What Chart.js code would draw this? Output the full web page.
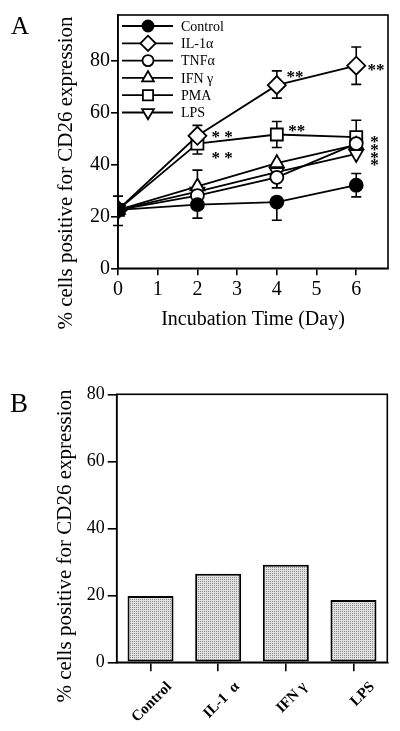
<!DOCTYPE html>
<html>
<head>
<meta charset="utf-8">
<script src="https://cdn.jsdelivr.net/npm/chart.js@4.4.0/dist/chart.umd.min.js"></script>
<style>
    html, body { margin: 0; padding: 0; background: #fff; }
    #wrapA { position: absolute; left: 0; top: 0; width: 400px; height: 355px; }
    #wrapB { position: absolute; left: 0; top: 355px; width: 400px; height: 376px; }
</style>
</head>
<body>
<div id="wrapA"><canvas id="chartA"></canvas></div>
<div id="wrapB"><canvas id="chartB"></canvas></div>
<script>
const SERIF = "'Liberation Serif', 'Times New Roman', serif";

// ---- Panel A: CD26 expression over incubation time ----
const days = [0, 2, 4, 6];
const dayTicks = [0, 1, 2, 3, 4, 5, 6];
const yTicksA = [0, 20, 40, 60, 80];

const controlVals = [22.5, 24.5, 25.5, 32];
const il1aVals    = [22.5, 51, 70.5, 78];
const tnfaVals    = [22.5, 28, 35, 48];
const ifngVals    = [22.5, 31.5, 40.5, 47.5];
const pmaVals     = [22.5, 48, 51.5, 50.5];
const lpsVals     = [22.5, 29.5, 37, 44];

// error bar lengths (up / down), 0 = not visible
const controlErrUp = [0, 0, 0, 4.5];
const controlErrDn = [6, 5.2, 7, 4.5];
const il1aErrUp    = [5.3, 4, 5.5, 7.2];
const il1aErrDn    = [0, 0, 5, 7.2];
const tnfaErrUp    = [0, 0, 0, 0];
const tnfaErrDn    = [0, 0, 4, 0];
const ifngErrUp    = [0, 6.3, 0, 0];
const ifngErrDn    = [0, 0, 0, 0];
const pmaErrUp     = [0, 0, 5, 6.5];
const pmaErrDn     = [0, 4, 5, 0];
const lpsErrUp     = [0, 0, 0, 0];
const lpsErrDn     = [0, 0, 6, 0];

// significance marks
const starMarks = [
    { x: 4.46, y: 75.5, text: '**' },
    { x: 6.5, y: 78.2, text: '**' },
    { x: 2.62, y: 52.4, text: '* *' },
    { x: 2.62, y: 44.3, text: '* *' },
    { x: 4.5, y: 54.7, text: '**' },
    { x: 6.46, y: 50.5, text: '*' },
    { x: 6.46, y: 47.3, text: '*' },
    { x: 6.46, y: 44.3, text: '*' },
    { x: 6.46, y: 41.5, text: '*' }
];

// ---- Panel B: bar chart ----
const barLabels = ['Control', 'IL-1  α', 'IFN γ', 'LPS'];
const barValues = [19.8, 26.4, 29.1, 18.6];
const yTicksB = [0, 20, 40, 60, 80];

function pts(vals) {
    return days.map((d, i) => ({ x: d, y: vals[i] }));
}

function series(label, vals, up, dn, style, radius, filled, rotation) {
    return {
        label: label,
        data: pts(vals),
        errUp: up,
        errDn: dn,
        borderColor: '#000',
        borderWidth: 1.8,
        backgroundColor: filled ? '#000' : '#fff',
        pointStyle: style,
        pointRadius: radius,
        pointRotation: rotation || 0,
        pointBorderWidth: 1.8,
        pointBorderColor: '#000',
        pointBackgroundColor: filled ? '#000' : '#fff',
        tension: 0,
        fill: false
    };
}

// frame around the plot area
const framePlugin = {
    id: 'frame',
    afterDraw(chart) {
        const a = chart.chartArea;
        const ctx = chart.ctx;
        ctx.save();
        ctx.strokeStyle = '#000';
        ctx.lineWidth = 1.6;
        ctx.strokeRect(a.left, a.top, a.right - a.left, a.bottom - a.top);
        ctx.restore();
    }
};

// error bars with T caps
const errorBarPlugin = {
    id: 'errorBars',
    beforeDatasetsDraw(chart) {
        const ctx = chart.ctx;
        const xs = chart.scales.x, ys = chart.scales.y;
        ctx.save();
        ctx.strokeStyle = '#000';
        ctx.lineWidth = 1.6;
        chart.data.datasets.forEach(ds => {
            ds.data.forEach((p, i) => {
                const px = xs.getPixelForValue(p.x);
                [[ds.errUp[i], 1], [ds.errDn[i], -1]].forEach(([e, dir]) => {
                    if (!e) return;
                    const y0 = ys.getPixelForValue(p.y);
                    const y1 = ys.getPixelForValue(p.y + dir * e);
                    ctx.beginPath();
                    ctx.moveTo(px, y0);
                    ctx.lineTo(px, y1);
                    ctx.moveTo(px - 5, y1);
                    ctx.lineTo(px + 5, y1);
                    ctx.stroke();
                });
            });
        });
        ctx.restore();
    }
};

// legend inside plot: line with marker, then label
const lineLegendPlugin = {
    id: 'lineLegend',
    afterDraw(chart) {
        const ctx = chart.ctx;
        const a = chart.chartArea;
        ctx.save();
        chart.data.datasets.forEach((ds, i) => {
            const y = a.top + 11 + i * 17.3;
            ctx.strokeStyle = '#000';
            ctx.lineWidth = 1.8;
            ctx.beginPath();
            ctx.moveTo(a.left + 4, y);
            ctx.lineTo(a.left + 55, y);
            ctx.stroke();
            ctx.fillStyle = ds.pointBackgroundColor;
            Chart.helpers.drawPoint(ctx, {
                pointStyle: ds.pointStyle,
                rotation: ds.pointRotation,
                radius: ds.pointRadius * 0.85,
                borderWidth: 1.8
            }, a.left + 30, y);
            ctx.fillStyle = '#000';
            ctx.font = '14px ' + SERIF;
            ctx.textBaseline = 'middle';
            ctx.textAlign = 'left';
            ctx.fillText(ds.label, a.left + 63, y + 1);
        });
        ctx.restore();
    }
};

const starPlugin = {
    id: 'stars',
    afterDatasetsDraw(chart) {
        const ctx = chart.ctx;
        const xs = chart.scales.x, ys = chart.scales.y;
        ctx.save();
        ctx.fillStyle = '#000';
        ctx.font = 'bold 17px ' + SERIF;
        ctx.textAlign = 'center';
        ctx.textBaseline = 'alphabetic';
        starMarks.forEach(m => {
            ctx.fillText(m.text, xs.getPixelForValue(m.x), ys.getPixelForValue(m.y) + 10);
        });
        ctx.restore();
    }
};

function panelTextPlugin(id, letter, lx, ly, letterSize, yTitleX, yTitleY, yTitleSize, xTitle) {
    return {
        id: id,
        afterDraw(chart) {
            const ctx = chart.ctx;
            ctx.save();
            ctx.fillStyle = '#000';
            ctx.textAlign = 'left';
            ctx.textBaseline = 'alphabetic';
            ctx.font = letterSize + 'px ' + SERIF;
            ctx.fillText(letter, lx, ly);
            ctx.save();
            ctx.translate(yTitleX, yTitleY);
            ctx.rotate(-Math.PI / 2);
            ctx.textAlign = 'center';
            ctx.textBaseline = 'middle';
            ctx.font = yTitleSize + 'px ' + SERIF;
            ctx.fillText('% cells positive for CD26 expression', 0, 0);
            ctx.restore();
            if (xTitle) {
                ctx.textAlign = 'center';
                ctx.textBaseline = 'middle';
                ctx.font = xTitle.size + 'px ' + SERIF;
                ctx.fillText(xTitle.text, xTitle.x, xTitle.y);
            }
            ctx.restore();
        }
    };
}

function axisLines(tickLen) {
    return {
        display: true,
        drawOnChartArea: false,
        drawTicks: true,
        tickLength: tickLen,
        color: '#000',
        lineWidth: 1.6
    };
}

Chart.defaults.font.family = SERIF;
Chart.defaults.color = '#000';
Chart.defaults.animation = false;

new Chart(document.getElementById('chartA'), {
    type: 'line',
    data: {
        datasets: [
            series('Control', controlVals, controlErrUp, controlErrDn, 'circle', 6.5, true),
            series('IL-1α', il1aVals, il1aErrUp, il1aErrDn, 'rectRot', 9, false),
            series('TNFα', tnfaVals, tnfaErrUp, tnfaErrDn, 'circle', 6.5, false),
            series('IFN γ', ifngVals, ifngErrUp, ifngErrDn, 'triangle', 8, false),
            series('PMA', pmaVals, pmaErrUp, pmaErrDn, 'rect', 8.5, false),
            series('LPS', lpsVals, lpsErrUp, lpsErrDn, 'triangle', 8, false, 180)
        ]
    },
    options: {
        responsive: true,
        maintainAspectRatio: false,
        layout: { padding: { left: 0, top: 15, right: 12, bottom: 0 } },
        plugins: { legend: { display: false }, tooltip: { enabled: false } },
        scales: {
            x: {
                type: 'linear',
                min: 0,
                max: 6.8,
                afterBuildTicks: s => { s.ticks = dayTicks.map(v => ({ value: v })); },
                afterFit: s => { s.height = 86.7; },
                grid: axisLines(7),
                border: { color: '#000', width: 1.6 },
                ticks: { font: { size: 20 }, padding: 2, maxRotation: 0 }
            },
            y: {
                min: 0,
                max: 97.5,
                afterBuildTicks: s => { s.ticks = yTicksA.map(v => ({ value: v })); },
                afterFit: s => { s.width = 118; },
                grid: axisLines(7),
                border: { color: '#000', width: 1.6 },
                ticks: { font: { size: 20 }, padding: 1 }
            }
        }
    },
    plugins: [errorBarPlugin, starPlugin, lineLegendPlugin, framePlugin,
        panelTextPlugin('textA', 'A', 11, 34, 25, 66, 173, 21,
            { text: 'Incubation Time (Day)', x: 253, y: 320, size: 20 })]
});

// stippled grey fill for the bars
function stipple() {
    const c = document.createElement('canvas');
    c.width = 2; c.height = 2;
    const g = c.getContext('2d');
    g.fillStyle = '#e2e2e2';
    g.fillRect(0, 0, 2, 2);
    g.fillStyle = '#8a8a8a';
    g.fillRect(0, 0, 1, 1);
    return g.createPattern(c, 'repeat');
}

new Chart(document.getElementById('chartB'), {
    type: 'bar',
    data: {
        labels: barLabels,
        datasets: [{
            data: barValues,
            backgroundColor: stipple(),
            borderColor: '#000',
            borderWidth: 2,
            borderSkipped: false,
            categoryPercentage: 1,
            barPercentage: 0.68
        }]
    },
    options: {
        responsive: true,
        maintainAspectRatio: false,
        layout: { padding: { left: 0, top: 39.3, right: 12.7, bottom: 0 } },
        plugins: { legend: { display: false }, tooltip: { enabled: false } },
        scales: {
            x: {
                afterFit: s => { s.height = 68.7; },
                grid: Object.assign(axisLines(9), { offset: false }),
                border: { color: '#000', width: 1.6 },
                ticks: {
                    font: { size: 15, weight: 'bold' },
                    minRotation: 45,
                    maxRotation: 45,
                    padding: 7,
                    labelOffset: 19
                }
            },
            y: {
                min: 0,
                max: 80,
                afterBuildTicks: s => { s.ticks = yTicksB.map(v => ({ value: v })); },
                afterFit: s => { s.width = 116.7; },
                grid: axisLines(9),
                border: { color: '#000', width: 1.6 },
                ticks: { font: { size: 18 }, padding: 3 }
            }
        }
    },
    plugins: [framePlugin,
        panelTextPlugin('textB', 'B', 10, 412 - 355, 27, 65, 546 - 355, 21, null)]
});
</script>
</body>
</html>
